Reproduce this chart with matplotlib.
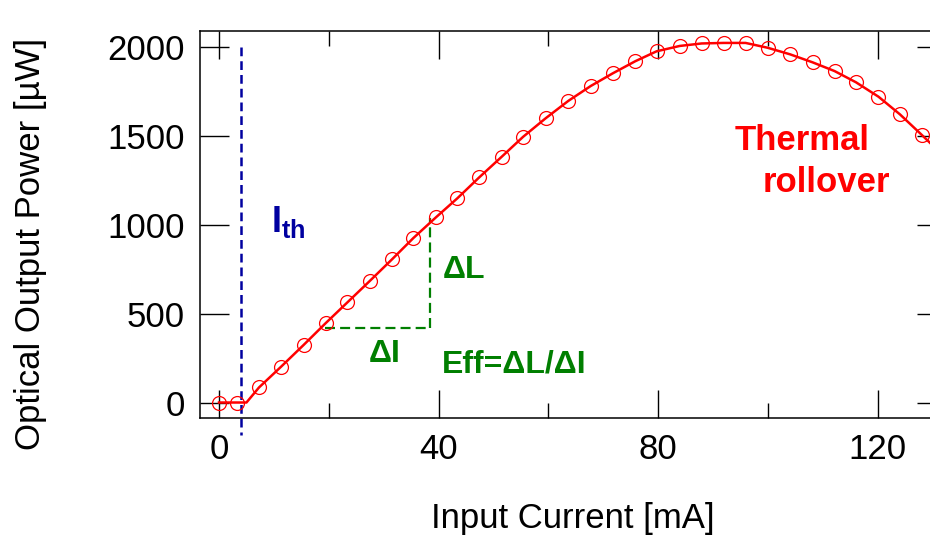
import matplotlib
matplotlib.use("Agg")
import matplotlib.pyplot as plt
from matplotlib.ticker import MultipleLocator

# Data
current = [0, 3.3, 7.3, 11.3, 15.4, 19.4, 23.4, 27.5, 31.5, 35.4, 39.5,
           43.4, 47.4, 51.5, 55.4, 59.5, 63.6, 67.7, 71.7, 75.8, 79.7,
           83.9, 87.9, 91.9, 95.9, 99.9, 104.0, 108.1, 112.1, 116.0,
           120.1, 124.0, 128.0]
power = [3, 3, 88, 204, 326, 448, 566, 687, 807, 927, 1043,
         1150, 1268, 1384, 1496, 1600, 1697, 1781, 1852, 1920, 1976,
         2006, 2020, 2023, 2023, 1996, 1959, 1914, 1865, 1802,
         1721, 1622, 1506]

# fitted curve (kink at threshold, runs off the right edge)
fit_current = [0, 5.0] + current[2:] + [132.4]
fit_power = [3, 3] + power[2:] + [1375]

i_th = 4.0                      # threshold current
i_th_span = [2000, -180]        # extent of threshold marker
slope_i = [19.3, 38.5]          # delta I leg
slope_l = [420, 1040]           # delta L leg

RED = "#ff0000"
BLUE = "#0000a0"
GREEN = "#007f00"

plt.rcParams["font.family"] = ["Liberation Sans", "DejaVu Sans"]
plt.rcParams["mathtext.fontset"] = "custom"
plt.rcParams["mathtext.rm"] = "Liberation Sans"
plt.rcParams["mathtext.bf"] = "Liberation Sans:bold"

fig = plt.figure(figsize=(9.3, 5.36), dpi=100)
# axes run past the right edge of the figure like in the reference
ax = fig.add_axes([200 / 930, 118 / 536, 746 / 930, 387 / 536])

# curve and measured points
ax.plot(fit_current, fit_power, color=RED, lw=1.8, zorder=3)
ax.plot(current, power, ls="none", marker="o", ms=10, mfc="none",
        mec=RED, mew=0.9, zorder=4)

# threshold marker
ax.plot([i_th, i_th], i_th_span, color=BLUE, lw=1.8, dashes=(3.5, 2),
        clip_on=False, zorder=2)

# slope triangle
ax.plot(slope_i, [slope_l[0], slope_l[0]], color=GREEN, lw=1.6,
        dashes=(4.5, 2.3), zorder=2)
ax.plot([slope_i[1], slope_i[1]], slope_l, color=GREEN, lw=1.6,
        dashes=(4.5, 2.3), zorder=2)

# annotations
ax.text(9.4, 961, r"$\mathbf{I_{th}}$", color=BLUE, fontsize=26,
        ha="left", va="baseline")
ax.text(106.2, 1421, "Thermal", color=RED, fontsize=25,
        fontweight="bold", ha="center", va="baseline")
ax.text(110.6, 1183, "rollover", color=RED, fontsize=25,
        fontweight="bold", ha="center", va="baseline")
ax.text(40.8, 702, "\u0394L", color=GREEN, fontsize=23,
        fontweight="bold", ha="left", va="baseline")
ax.text(27.3, 230, "\u0394I", color=GREEN, fontsize=23,
        fontweight="bold", ha="left", va="baseline")
ax.text(40.6, 169, "Eff=\u0394L/\u0394I", color=GREEN, fontsize=23,
        fontweight="bold", ha="left", va="baseline")

ax.set_xlim(-3.46, 132.4)
ax.set_ylim(-84, 2090)

ax.xaxis.set_major_locator(MultipleLocator(40))
ax.xaxis.set_minor_locator(MultipleLocator(20))
ax.yaxis.set_major_locator(MultipleLocator(500))

ax.tick_params(which="both", direction="in", top=True, right=True,
               width=1.0, labelsize=25)
ax.tick_params(axis="x", which="major", length=20, pad=11)
ax.tick_params(axis="x", which="minor", length=11)
ax.tick_params(axis="y", which="major", length=21, pad=11)
for sp in ax.spines.values():
    sp.set_linewidth(1.1)

ax.set_xlabel("Input Current [mA]", fontsize=25, labelpad=26)
ax.set_ylabel("Optical Output Power [\u00b5W]", fontsize=25)
ax.yaxis.set_label_coords(-0.205, 0.45)

fig.savefig("out.png", dpi=100)
